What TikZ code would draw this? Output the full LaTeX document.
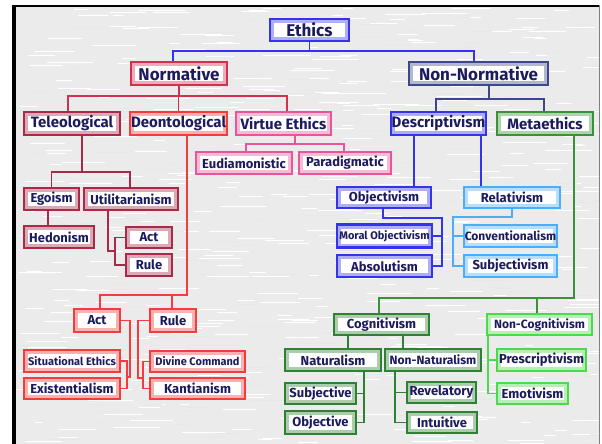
\documentclass[tikz,border=0pt]{standalone}
\usepackage{fontspec}
\setmainfont{Fira Sans}
\definecolor{ethc}{HTML}{3434F0}
\definecolor{normc}{HTML}{D2304F}
\definecolor{nnc}{HTML}{3E4888}
\definecolor{telc}{HTML}{A82A48}
\definecolor{deoc}{HTML}{F53B3B}
\definecolor{virc}{HTML}{E8559A}
\definecolor{desc}{HTML}{3434EC}
\definecolor{metc}{HTML}{389238}
\definecolor{relc}{HTML}{4AAEFA}
\definecolor{cogc}{HTML}{2F7F34}
\definecolor{ncogc}{HTML}{4CD94C}
\definecolor{txt}{HTML}{1B1B5E}
\definecolor{paper}{HTML}{EBEBEB}
\begin{document}
\begin{tikzpicture}[
    x=1pt, y=-1pt,
    cbox/.style={draw=#1, fill=white, line width=2.6pt, text=txt, inner sep=0pt,
      path picture={\draw[#1!40, line width=8pt] (path picture bounding box.south west) rectangle (path picture bounding box.north east);}},
    wire/.style={draw=#1, line width=1.7pt},
    f1/.style={font=\fontsize{17}{20}\selectfont\bfseries},
    f2/.style={font=\fontsize{15}{18}\selectfont\bfseries},
    f3/.style={font=\fontsize{13}{15}\selectfont\bfseries},
    f3b/.style={font=\fontsize{12}{14}\selectfont\bfseries},
    f4/.style={font=\fontsize{11}{13}\selectfont\bfseries}
]

\useasboundingbox (0,0) rectangle (602,444);
\fill[paper] (16,7) rectangle (599,444);
\begin{scope}
  \clip (16,7) rectangle (599,444);
  \pgfmathsetseed{11}
  \foreach \i in {1,...,450}{
    \pgfmathsetmacro\tx{16+590*rnd}
    \pgfmathsetmacro\ty{8+436*rnd}
    \pgfmathsetmacro\tl{8+40*rnd}
    \draw[white, line width=0.8pt] (\tx,\ty) -- ++(\tl,0);
  }
  \foreach \i in {1,...,200}{
    \pgfmathsetmacro\tx{16+590*rnd}
    \pgfmathsetmacro\ty{8+436*rnd}
    \pgfmathsetmacro\tl{6+30*rnd}
    \draw[gray!18, line width=0.5pt] (\tx,\ty) -- ++(\tl,0);
  }
\end{scope}
\fill[black] (12,5) rectangle (16,444);
\fill[black] (12,5) rectangle (600,7.5);
\draw[gray, line width=1pt] (599,5) -- (599,444);

\node[cbox=ethc, f1, minimum width=79, minimum height=22] (ethics) at (309.5,30) {Ethics};
\node[cbox=normc, f1, minimum width=96, minimum height=23] (norm) at (179,73.5) {Normative};
\node[cbox=nnc, f1, minimum width=139, minimum height=23] (nonn) at (478.5,73.5) {Non-Normative};

\node[cbox=telc, f2, minimum width=96, minimum height=23] (tele) at (72,123.5) {Teleological};
\node[cbox=deoc, f2, minimum width=97, minimum height=23] (deon) at (178.5,123.5) {Deontological};
\node[cbox=virc, f2, minimum width=95, minimum height=23] (virt) at (283.5,123.5) {Virtue Ethics};
\node[cbox=desc, f2, minimum width=95, minimum height=23] (descr) at (438.5,123.5) {Descriptivism};
\node[cbox=metc, f2, minimum width=96, minimum height=23] (meta) at (545,123.5) {Metaethics};

\node[cbox=virc, f3, minimum width=96, minimum height=22] (eud) at (244,163) {Eudiamonistic};
\node[cbox=virc, f3, minimum width=92, minimum height=22] (para) at (345,163) {Paradigmatic};

\node[cbox=telc, f3, minimum width=55, minimum height=22] (ego) at (51.5,199) {Egoism};
\node[cbox=telc, f3, minimum width=94, minimum height=22] (util) at (131,199) {Utilitarianism};
\node[cbox=telc, f3, minimum width=70, minimum height=22] (hedo) at (59,237) {Hedonism};
\node[cbox=telc, f3, minimum width=46, minimum height=21] (uact) at (149,237.5) {Act};
\node[cbox=telc, f3, minimum width=46, minimum height=22] (urule) at (149,265) {Rule};

\node[cbox=desc, f3, minimum width=94, minimum height=21] (obj) at (384,197.5) {Objectivism};
\node[cbox=relc, f3, minimum width=96, minimum height=21] (rel) at (512,197.5) {Relativism};
\node[cbox=desc, f4, minimum width=95, minimum height=23] (mobj) at (384.5,236) {Moral Objectivism};
\node[cbox=desc, f3, minimum width=95, minimum height=22] (abso) at (384.5,266) {Absolutism};
\node[cbox=relc, f3b, minimum width=93, minimum height=22] (conv) at (510.5,236) {Conventionalism};
\node[cbox=relc, f3, minimum width=93, minimum height=22] (subj) at (510.5,266) {Subjectivism};

\node[cbox=deoc, f3, minimum width=46, minimum height=23] (dact) at (97,320.5) {Act};
\node[cbox=deoc, f3, minimum width=46, minimum height=23] (drule) at (173,320.5) {Rule};
\node[cbox=deoc, f4, minimum width=96, minimum height=22] (sit) at (72,361) {Situational Ethics};
\node[cbox=deoc, f3, minimum width=96, minimum height=21] (exis) at (72,388.5) {Existentialism};
\node[cbox=deoc, f4, minimum width=95, minimum height=21] (div) at (197.5,361.5) {Divine Command};
\node[cbox=deoc, f3, minimum width=95, minimum height=21] (kant) at (197.5,388.5) {Kantianism};

\node[cbox=cogc, f3, minimum width=95, minimum height=21] (cog) at (381.5,324.5) {Cognitivism};
\node[cbox=ncogc, f3b, minimum width=105, minimum height=21] (ncog) at (539.5,324.5) {Non-Cognitivism};
\node[cbox=cogc, f3, minimum width=96, minimum height=22] (nat) at (333,360) {Naturalism};
\node[cbox=cogc, f3b, minimum width=96, minimum height=22] (nnat) at (433,360) {Non-Naturalism};
\node[cbox=cogc, f3, minimum width=71, minimum height=21] (subo) at (320.5,393.5) {Subjective};
\node[cbox=cogc, f3, minimum width=71, minimum height=23] (objo) at (320.5,422.5) {Objective};
\node[cbox=cogc, f3, minimum width=69, minimum height=21] (rev) at (441.5,392.5) {Revelatory};
\node[cbox=cogc, f3, minimum width=70, minimum height=21] (intu) at (442,422.5) {Intuitive};
\node[cbox=ncogc, f3, minimum width=89, minimum height=22] (pres) at (541.5,360) {Prescriptivism};
\node[cbox=ncogc, f3, minimum width=71, minimum height=21] (emot) at (532.5,393.5) {Emotivism};

\draw[wire=ethc] (ethics.south) -- ++(0,9) coordinate (j1) -| ([xshift=-6pt]norm.north)
  (j1) -| ([xshift=-4.5pt]nonn.north);
\draw[wire=normc] (norm.south) -- ++(0,10) coordinate (j2) -| ([xshift=-4pt]tele.north)
  (j2) -| (deon.north) (j2) -| ([xshift=3.5pt]virt.north);
\draw[wire=nnc] ([xshift=10.5pt]nonn.south) -- ++(0,13) coordinate (j3) -| ([xshift=-2.5pt]descr.north)
  (j3) -| ([xshift=-1pt]meta.north);
\draw[wire=virc] ([xshift=11.5pt]virt.south) -- ++(0,8) coordinate (j4) -| ([xshift=2pt]eud.north)
  (j4) -| ([xshift=-1pt]para.north);

\draw[wire=telc] ([xshift=10pt]tele.south) -- ++(0,36) coordinate (j5) -| (ego.north)
  (j5) -| ([xshift=-1pt]util.north);
\draw[wire=telc] ([xshift=-3.5pt]ego.south) -- ([xshift=-3.5pt]ego.south |- hedo.north);
\draw[wire=telc] ([xshift=-23pt]util.south) |- ([xshift=-10pt,yshift=14pt]urule.west);
\draw[wire=telc] (uact.west) -- ++(-10,0) |- (urule.west);

\draw[wire=deoc] ([xshift=8.5pt]deon.south) |- ([xshift=3pt,yshift=13pt]dact.north) -- ([xshift=3pt]dact.north)
  ([xshift=-1pt,yshift=13pt]drule.north) -- ([xshift=-1pt]drule.north);
\draw[wire=deoc] (dact.east) -| ([xshift=9pt,yshift=11.5pt]exis.east) -- ([xshift=6pt,yshift=11.5pt]exis.east);
\draw[wire=deoc] (sit.east) -| ([xshift=6pt]exis.east) -- (exis.east);
\draw[wire=deoc] (drule.west) -| ([xshift=-11pt,yshift=10.5pt]kant.west) -- ([xshift=-6pt,yshift=10.5pt]kant.west);
\draw[wire=deoc] (div.west) -| ([xshift=-6pt]kant.west) -- (kant.west);

\draw[wire=desc] ([xshift=-24.5pt]descr.south) -- ([xshift=-24.5pt]descr.south |- obj.north)
  ([xshift=42.5pt]descr.south) -- ([xshift=42.5pt]descr.south |- rel.north);
\draw[wire=desc] ([xshift=-1pt]obj.south) -- ++(0,9) -| ([xshift=9pt]abso.east) -- (abso.east)
  ([xshift=9pt]mobj.east) -- (mobj.east);
\draw[wire=relc] (rel.south) -- ++(0,8) -| ([xshift=-10pt]subj.west) -- (subj.west)
  ([xshift=-10pt]conv.west) -- (conv.west);

\draw[wire=metc] ([xshift=29pt]meta.south) |- ([xshift=-2.5pt,yshift=15pt]cog.north) -- ([xshift=-2.5pt]cog.north)
  ([xshift=-2.5pt,yshift=15pt]ncog.north) -- ([xshift=-2.5pt]ncog.north);
\draw[wire=cogc] ([xshift=-33.5pt]cog.south) -- ([xshift=-33.5pt]cog.south |- nat.north)
  ([xshift=21.5pt]cog.south) -- ([xshift=21.5pt]cog.south |- nnat.north);
\draw[wire=cogc] ([xshift=31pt]nat.south) |- (objo.east)
  ([xshift=31pt]nat.south |- subo.east) -- (subo.east);
\draw[wire=cogc] ([xshift=-38pt]nnat.south) |- (intu.west)
  ([xshift=-38pt]nnat.south |- rev.west) -- (rev.west);
\draw[wire=ncogc] ([xshift=-51.5pt]ncog.south) |- (emot.west)
  ([xshift=-51.5pt]ncog.south |- pres.west) -- (pres.west);

\end{tikzpicture}
\end{document}
